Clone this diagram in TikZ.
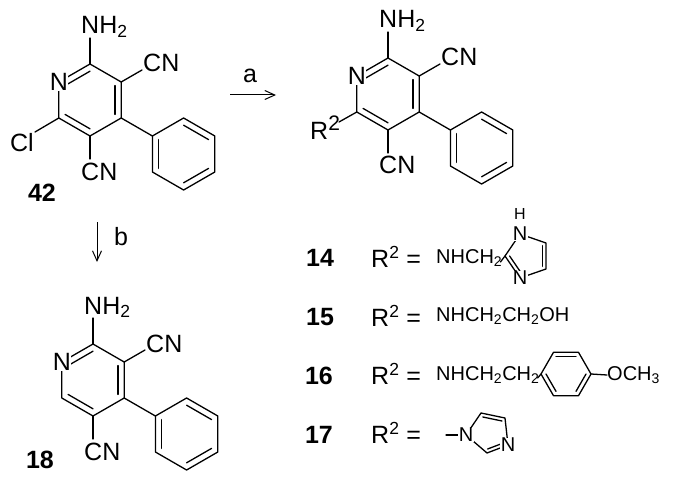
\documentclass[tikz,border=0pt]{standalone}
\usepackage{fontspec}
\setmainfont{Liberation Sans}
\usetikzlibrary{calc,arrows.meta}
\tikzset{
  bond/.style={line width=1.3pt,line cap=round,line join=round},
  atom/.style={fill=white,inner sep=0.6pt,font=\fontsize{25}{25}\selectfont},
  smatom/.style={fill=white,inner sep=0.6pt,font=\fontsize{20}{20}\selectfont},
  lbl/.style={inner sep=0pt,font=\fontsize{25}{25}\selectfont},
  sml/.style={inner sep=0pt,font=\fontsize{20}{20}\selectfont},
  num/.style={inner sep=0pt,font=\fontsize{25}{25}\selectfont\bfseries},
  rxn/.style={line width=1.0pt,-{Straight Barb[length=10pt,width=9pt,line width=1pt]}}
}
% inner line of a double bond: A, B, ring centre
\newcommand{\dbl}[3]{\draw[bond] ($(#1)!0.2!(#3)$) -- ($(#2)!0.2!(#3)$);}
% pyridine with NH2, CN, CN and phenyl, prefix #1
\newcommand{\pyrcore}[1]{%
  \coordinate (#1o) at (0,0);
  \coordinate (#1n) at (-31.2,-18);
  \coordinate (#1c2) at (0,-36);
  \coordinate (#1c3) at (31.2,-18);
  \coordinate (#1c4) at (31.2,18);
  \coordinate (#1c5) at (0,36);
  \coordinate (#1c6) at (-31.2,18);
  \coordinate (#1po) at (93.6,54);
  \coordinate (#1p1) at (62.4,36);
  \coordinate (#1p2) at (93.6,18);
  \coordinate (#1p3) at (124.8,36);
  \coordinate (#1p4) at (124.8,72);
  \coordinate (#1p5) at (93.6,90);
  \coordinate (#1p6) at (62.4,72);
  \draw[bond] (#1n) -- (#1c2) -- (#1c3) -- (#1c4) -- (#1c5) -- (#1c6) -- cycle;
  \dbl{#1n}{#1c2}{#1o}
  \dbl{#1c3}{#1c4}{#1o}
  \dbl{#1c5}{#1c6}{#1o}
  \draw[bond] (#1c4) -- (#1p1);
  \draw[bond] (#1p1) -- (#1p2) -- (#1p3) -- (#1p4) -- (#1p5) -- (#1p6) -- cycle;
  \dbl{#1p2}{#1p3}{#1po}
  \dbl{#1p4}{#1p5}{#1po}
  \dbl{#1p6}{#1p1}{#1po}
  \draw[bond] (#1c2) -- (0,-62);
  \draw[bond] (#1c3) -- (52,-30);
  \draw[bond] (#1c5) -- (0,59);
  \node[atom] (#1nat) at (#1n) {N};
  \node[lbl,anchor=base west] (#1nh2) at (-9,-66) {NH\textsubscript{2}};
  \node[lbl,anchor=base west] (#1cna) at (53,-28) {CN};
  \node[lbl,anchor=base west] (#1cnb) at (-9,80) {CN};
}
\begin{document}
\begin{tikzpicture}[x=1pt,y=-1pt]
  \useasboundingbox (0,0) rectangle (680,492);
  % starting material
  \begin{scope}[shift={(90,100)}]
    \pyrcore{s}
    \draw[bond] (sc6) -- (-55,32);
    \node[lbl,anchor=base east] (scl) at (-56,52) {Cl};
  \end{scope}
  \node[num] (n42) at (42,193) {42};
  % product a
  \begin{scope}[shift={(388,94)}]
    \pyrcore{a}
    \draw[bond] (ac6) -- (-49,28);
    \node[lbl,anchor=base west] (ar2) at (-78,46) {R\textsuperscript{\fontsize{21}{21}\selectfont 2}};
  \end{scope}
  % product b
  \begin{scope}[shift={(93,380)}]
    \pyrcore{b}
  \end{scope}
  \node[num] (n18) at (40,460) {18};
  % arrows
  \coordinate (a0) at (230,95);
  \coordinate (a1) at (276,95);
  \draw[rxn] (a0) -- (a1);
  \node[lbl] (la) at (250,76) {a};
  \coordinate (b0) at (97,222);
  \coordinate (b1) at (97,262);
  \draw[rxn] (b0) -- (b1);
  \node[lbl] (lb) at (121,237) {b};
  % R2 groups
  \node[num] (n14) at (320,258) {14};
  \node[num] (n15) at (320,317) {15};
  \node[num] (n16) at (319,376) {16};
  \node[num] (n17) at (319,435) {17};
  \node[lbl,anchor=west] (r14) at (371,257) {R\textsuperscript{2} =};
  \node[lbl,anchor=west] (r15) at (371,316) {R\textsuperscript{2} =};
  \node[lbl,anchor=west] (r16) at (371,374) {R\textsuperscript{2} =};
  \node[lbl,anchor=west] (r17) at (371,433) {R\textsuperscript{2} =};
  % 14: imidazol-2-ylmethyl
  \node[sml,anchor=west] (t14) at (436,258) {NHCH\textsubscript{2}};
  \coordinate (i1) at (520,234);
  \coordinate (i5) at (546,243);
  \coordinate (i4) at (546,269);
  \coordinate (i3) at (520,278);
  \coordinate (i2) at (505,256);
  \coordinate (io) at (528,256);
  \draw[bond] (i1) -- (i5) -- (i4) -- (i3) -- (i2) -- cycle;
  \dbl{i5}{i4}{io}
  \dbl{i2}{i3}{io}
  \draw[bond] (t14.east) ++(-2,4) -- (i2);
  \node[smatom] (i1n) at (i1) {N};
  \node[smatom] (i3n) at (i3) {N};
  \node[sml] (i1h) at (520,214) {\fontsize{16}{16}\selectfont H};
  % 15
  \node[sml,anchor=west] (t15) at (436,316) {NHCH\textsubscript{2}CH\textsubscript{2}OH};
  % 16: 4-methoxyphenethyl
  \node[sml,anchor=west] (t16) at (436,375) {NHCH\textsubscript{2}CH\textsubscript{2}};
  \coordinate (q0) at (566,374);
  \coordinate (q1) at (541,374);
  \coordinate (q2) at (553.5,352.3);
  \coordinate (q3) at (578.5,352.3);
  \coordinate (q4) at (591,374);
  \coordinate (q5) at (578.5,395.7);
  \coordinate (q6) at (553.5,395.7);
  \draw[bond] (q1) -- (q2) -- (q3) -- (q4) -- (q5) -- (q6) -- cycle;
  \dbl{q2}{q3}{q0}
  \dbl{q4}{q5}{q0}
  \dbl{q6}{q1}{q0}
  \draw[bond] (t16.east) ++(-2,3) -- (q1);
  \node[sml,anchor=west] (t16b) at (607,375) {OCH\textsubscript{3}};
  \draw[bond] (q4) -- (t16b.west);
  % 17: imidazol-1-yl
  \coordinate (m1) at (466,435);
  \coordinate (m5) at (481,413);
  \coordinate (m4) at (505,418);
  \coordinate (m3) at (508,445);
  \coordinate (m2) at (487,453);
  \coordinate (mo) at (490,433);
  \coordinate (m0) at (446,435);
  \draw[bond] (m1) -- (m5) -- (m4) -- (m3) -- (m2) -- cycle;
  \dbl{m5}{m4}{mo}
  \dbl{m2}{m3}{mo}
  \draw[bond] (m0) -- (m1);
  \node[smatom] (m1n) at (m1) {N};
  \node[smatom] (m3n) at (m3) {N};
\end{tikzpicture}
\end{document}
